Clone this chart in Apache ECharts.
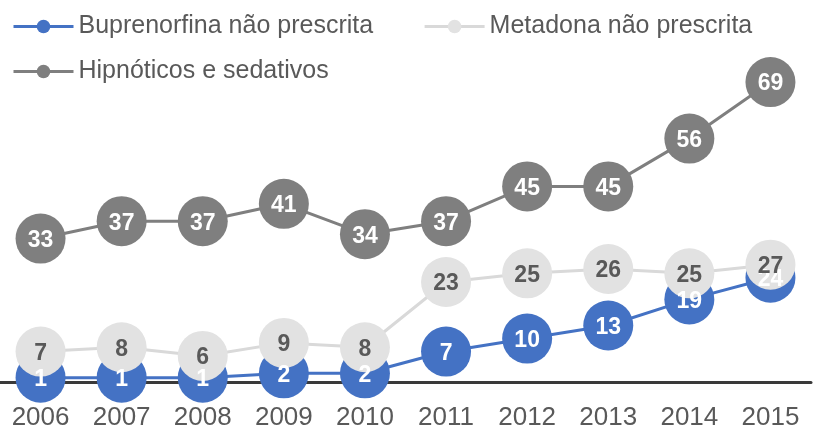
<!DOCTYPE html>
<html><head><meta charset="utf-8">
<script src="https://cdn.jsdelivr.net/npm/echarts@6/dist/echarts.min.js"></script>
<style>html,body{margin:0;padding:0;background:#fff}#c{width:814px;height:444px}</style>
</head><body><div id="c"></div>
<script>
const years = ['2006','2007','2008','2009','2010','2011','2012','2013','2014','2015'];
const buprenorfina = [1,1,1,2,2,7,10,13,19,24];
const metadona = [7,8,6,9,8,23,25,26,25,27];
const hipnoticos = [33,37,37,41,34,37,45,45,56,69];
const names = ['Buprenorfina não prescrita','Metadona não prescrita','Hipnóticos e sedativos'];

const FONT = '"Liberation Sans", Arial, sans-serif';
function mk(name, data, color, lineColor, labelColor){
  return {
    name, type:'line', data, symbol:'circle', symbolSize:50,
    lineStyle:{color:lineColor, width:3},
    itemStyle:{color:color},
    label:{show:true, position:'inside', offset:[0,2], color:labelColor, fontFamily:FONT, fontWeight:'bold', fontSize:23},
    emphasis:{disabled:true}, animation:false
  };
}
const legendBase = {
  padding:0, itemGap:50, itemWidth:60, itemHeight:17,
  lineStyle:{width:3},
  textStyle:{fontFamily:FONT, fontSize:25, color:'#595959'}
};
const chart = echarts.init(document.getElementById('c'));
chart.setOption({
  animation:false,
  legend:[
    Object.assign({}, legendBase, {left:12, top:14, data:[names[0], names[1]]}),
    Object.assign({}, legendBase, {left:12, top:59, data:[names[2]]})
  ],
  grid:{left:-1, right:3, top:56, bottom:62, containLabel:false},
  xAxis:{type:'category', data:years, boundaryGap:true,
    axisLine:{lineStyle:{color:'#3a3a3a', width:3}},
    axisTick:{show:false},
    axisLabel:{fontFamily:FONT, fontSize:26, color:'#595959', margin:23}
  },
  yAxis:{type:'value', min:0, max:75, show:false, splitLine:{show:false}},
  series:[
    mk(names[0], buprenorfina, '#4472C4', '#4472C4', '#ffffff'),
    mk(names[1], metadona, '#E2E2E2', '#D9D9D9', '#595959'),
    mk(names[2], hipnoticos, '#7F7F7F', '#7F7F7F', '#ffffff')
  ]
});
</script></body></html>
